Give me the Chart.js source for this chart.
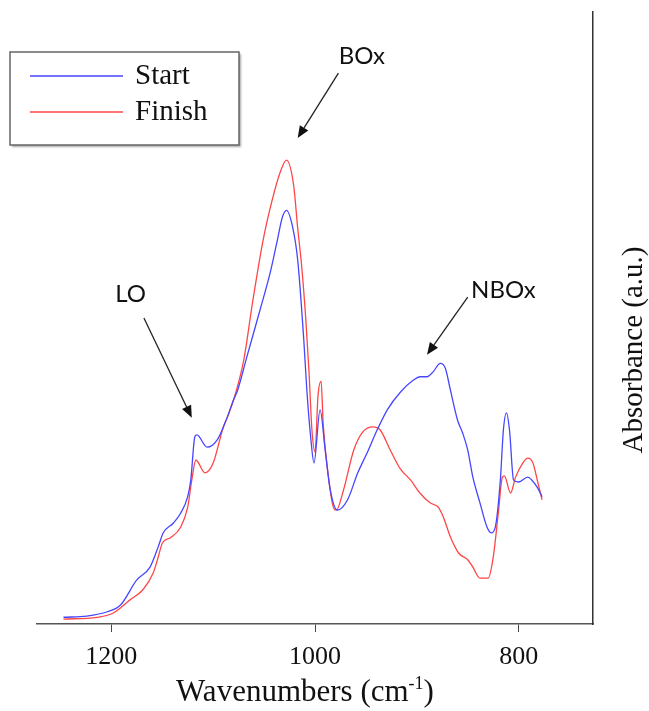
<!DOCTYPE html>
<html>
<head>
<meta charset="utf-8">
<title>FTIR spectra – Start vs Finish</title>
<script src="https://cdn.jsdelivr.net/npm/chart.js@4.4.1/dist/chart.umd.min.js"></script>
<style>
  html, body { margin: 0; padding: 0; background: #ffffff; }
  #wrap { width: 649px; height: 711px; position: relative; }
</style>
</head>
<body>
<div id="wrap"><canvas id="spectra"></canvas></div>
<script>
// Series names
const SERIES_NAMES = ['Start', 'Finish'];

// Start spectrum: wavenumber (cm-1) and absorbance (a.u.)
const START_WAVENUMBER = [1247, 1224, 1204, 1191, 1175, 1162, 1154, 1149, 1139, 1132, 1125, 1122, 1118, 1116, 1106, 1096, 1088, 1080, 1076, 1067, 1054, 1044, 1037, 1032, 1028, 1022, 1017, 1011, 1008, 1004, 1001, 995, 990, 985, 978, 968, 958, 949, 939, 929, 916, 903, 897, 890, 884, 877, 872, 867, 860, 855, 850, 845, 838, 831, 827, 823, 818, 815, 812, 809, 805, 800, 791, 787, 782, 777];
const START_ABSORBANCE = [0.011, 0.013, 0.020, 0.031, 0.072, 0.093, 0.126, 0.149, 0.165, 0.181, 0.208, 0.235, 0.306, 0.309, 0.289, 0.301, 0.330, 0.366, 0.382, 0.436, 0.513, 0.574, 0.627, 0.665, 0.676, 0.649, 0.595, 0.464, 0.382, 0.301, 0.263, 0.350, 0.284, 0.219, 0.186, 0.203, 0.247, 0.279, 0.317, 0.350, 0.379, 0.399, 0.404, 0.404, 0.412, 0.426, 0.418, 0.382, 0.333, 0.312, 0.284, 0.240, 0.198, 0.158, 0.149, 0.158, 0.235, 0.317, 0.345, 0.317, 0.235, 0.232, 0.240, 0.235, 0.224, 0.208];

// Finish spectrum: wavenumber (cm-1) and absorbance (a.u.)
const FINISH_WAVENUMBER = [1247, 1214, 1198, 1182, 1169, 1159, 1154, 1150, 1142, 1132, 1125, 1121, 1117, 1108, 1100, 1090, 1086, 1078, 1070, 1061, 1051, 1042, 1034, 1028, 1021, 1017, 1013, 1009, 1006, 1003, 1000, 997, 994, 992, 988, 982, 979, 972, 962, 953, 943, 936, 926, 916, 906, 897, 887, 879, 874, 867, 859, 850, 845, 838, 830, 825, 820, 816, 814, 808, 803, 796, 791, 786, 781, 777];
const FINISH_ABSORBANCE = [0.008, 0.011, 0.018, 0.039, 0.056, 0.083, 0.109, 0.132, 0.141, 0.158, 0.191, 0.235, 0.268, 0.247, 0.263, 0.322, 0.338, 0.377, 0.431, 0.529, 0.627, 0.693, 0.739, 0.758, 0.717, 0.647, 0.583, 0.497, 0.415, 0.317, 0.281, 0.374, 0.397, 0.328, 0.257, 0.191, 0.186, 0.219, 0.284, 0.314, 0.322, 0.317, 0.284, 0.253, 0.235, 0.214, 0.198, 0.191, 0.175, 0.142, 0.116, 0.105, 0.093, 0.075, 0.075, 0.109, 0.181, 0.240, 0.242, 0.214, 0.240, 0.263, 0.271, 0.263, 0.230, 0.203];

// Wavenumber tick labels
const X_TICKS = [1200, 1000, 800];

// Band assignments
const BAND_LABELS = ['LO', 'BOx', 'NBOx'];

const COLORS = ['#4646ff', '#ff4646'];
const SERIF = '"Liberation Serif", "DejaVu Serif", serif';
const SANS = 'Lato, "Open Sans", sans-serif';

function pairs(xs, ys) {
  return xs.map((x, i) => ({ x: x, y: ys[i] }));
}

// Where each band label sits and where its arrow points, in (wavenumber, absorbance)
const bandNotes = [
  { text: BAND_LABELS[0], at: [1181, 0.538], tail: [1168, 0.500], tip: [1121, 0.337] },
  { text: BAND_LABELS[1], at: [954, 0.928], tail: [977, 0.900], tip: [1017, 0.794] },
  { text: BAND_LABELS[2], at: [815, 0.546], tail: [850, 0.534], tip: [890, 0.440] }
];

function arrow(ctx, x1, y1, x2, y2) {
  const ang = Math.atan2(y2 - y1, x2 - x1);
  const head = 12, half = 5;
  const bx = x2 - head * Math.cos(ang), by = y2 - head * Math.sin(ang);
  ctx.beginPath();
  ctx.moveTo(x1, y1);
  ctx.lineTo(bx, by);
  ctx.strokeStyle = '#222';
  ctx.lineWidth = 1.3;
  ctx.stroke();
  ctx.beginPath();
  ctx.moveTo(x2, y2);
  ctx.lineTo(bx + half * Math.sin(ang), by - half * Math.cos(ang));
  ctx.lineTo(bx - half * Math.sin(ang), by + half * Math.cos(ang));
  ctx.closePath();
  ctx.fillStyle = '#111';
  ctx.fill();
}

const decorations = {
  id: 'decorations',
  afterDraw(chart) {
    const ctx = chart.ctx;
    const xs = chart.scales.x, ys = chart.scales.y;
    ctx.save();

    // band labels with arrows
    ctx.font = '24px ' + SANS;
    ctx.fillStyle = '#111';
    ctx.textAlign = 'center';
    ctx.textBaseline = 'middle';
    bandNotes.forEach(n => {
      ctx.fillText(n.text, xs.getPixelForValue(n.at[0]), ys.getPixelForValue(n.at[1]));
      arrow(ctx,
        xs.getPixelForValue(n.tail[0]), ys.getPixelForValue(n.tail[1]),
        xs.getPixelForValue(n.tip[0]), ys.getPixelForValue(n.tip[1]));
    });

    // legend box
    const bx = 10, by = 52, bw = 229, bh = 93;
    ctx.save();
    ctx.shadowColor = 'rgba(0,0,0,0.35)';
    ctx.shadowOffsetX = 2;
    ctx.shadowOffsetY = 2;
    ctx.shadowBlur = 2;
    ctx.fillStyle = '#ffffff';
    ctx.fillRect(bx, by, bw, bh);
    ctx.restore();
    ctx.strokeStyle = '#666';
    ctx.lineWidth = 1.5;
    ctx.strokeRect(bx, by, bw, bh);
    chart.data.datasets.forEach((ds, i) => {
      const ly = 76 + i * 36;
      ctx.beginPath();
      ctx.moveTo(30, ly);
      ctx.lineTo(123, ly);
      ctx.strokeStyle = ds.borderColor;
      ctx.lineWidth = 1.5;
      ctx.stroke();
      ctx.font = '29px ' + SERIF;
      ctx.fillStyle = '#111';
      ctx.textAlign = 'left';
      ctx.textBaseline = 'middle';
      ctx.fillText(ds.label, 135, ly);
    });

    // x axis title with superscript
    const main = 'Wavenumbers (cm', sup = '-1', close = ')';
    ctx.textBaseline = 'alphabetic';
    ctx.textAlign = 'left';
    ctx.font = '31px ' + SERIF;
    const wMain = ctx.measureText(main).width;
    const wClose = ctx.measureText(close).width;
    ctx.font = '18px ' + SERIF;
    const wSup = ctx.measureText(sup).width;
    let tx = 305 - (wMain + wSup + wClose) / 2;
    const base = 701;
    ctx.font = '31px ' + SERIF;
    ctx.fillText(main, tx, base);
    tx += wMain;
    ctx.font = '18px ' + SERIF;
    ctx.fillText(sup, tx, base - 12);
    tx += wSup;
    ctx.font = '31px ' + SERIF;
    ctx.fillText(close, tx, base);

    // y axis title, reading upwards
    ctx.translate(634, 350);
    ctx.rotate(-Math.PI / 2);
    ctx.textAlign = 'center';
    ctx.textBaseline = 'middle';
    ctx.font = '29px ' + SERIF;
    ctx.fillText('Absorbance (a.u.)', 0, 0);
    ctx.restore();
  }
};

new Chart(document.getElementById('spectra'), {
  type: 'line',
  data: {
    datasets: [
      {
        label: SERIES_NAMES[0],
        data: pairs(START_WAVENUMBER, START_ABSORBANCE),
        borderColor: COLORS[0],
        borderWidth: 1.3,
        pointRadius: 0,
        fill: false,
        cubicInterpolationMode: 'monotone'
      },
      {
        label: SERIES_NAMES[1],
        data: pairs(FINISH_WAVENUMBER, FINISH_ABSORBANCE),
        borderColor: COLORS[1],
        borderWidth: 1.3,
        pointRadius: 0,
        fill: false,
        cubicInterpolationMode: 'monotone'
      }
    ]
  },
  options: {
    responsive: true,
    maintainAspectRatio: false,
    animation: false,
    devicePixelRatio: 1,
    layout: { padding: { left: 37, top: 12, right: 0, bottom: 0 } },
    plugins: {
      legend: { display: false },
      tooltip: { enabled: false }
    },
    scales: {
      x: {
        type: 'linear',
        reverse: true,
        min: 727,
        max: 1273,
        afterBuildTicks(scale) {
          scale.ticks = X_TICKS.map(v => ({ value: v }));
        },
        afterFit(scale) { scale.height = 87; },
        ticks: {
          autoSkip: false,
          maxRotation: 0,
          padding: 10,
          color: '#111',
          font: { family: SERIF, size: 26 },
          callback: v => String(v)
        },
        grid: {
          display: true,
          drawOnChartArea: false,
          drawTicks: true,
          tickLength: 8,
          color: '#444'
        },
        border: { display: true, color: '#555', width: 1.5 }
      },
      y: {
        type: 'linear',
        position: 'right',
        min: 0,
        max: 1,
        afterFit(scale) { scale.width = 56; },
        ticks: { display: false },
        grid: { display: false },
        border: { display: true, color: '#333', width: 1.5 }
      }
    }
  },
  plugins: [decorations]
});
</script>
</body>
</html>
